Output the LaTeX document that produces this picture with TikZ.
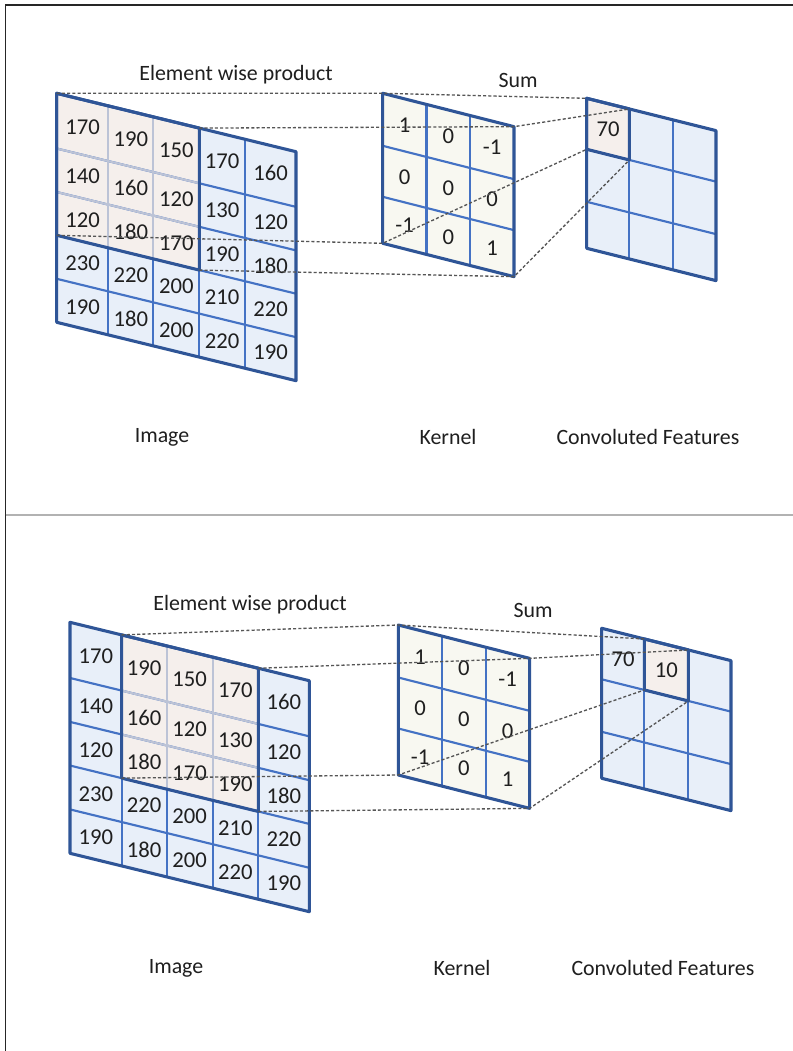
\documentclass[tikz,border=0pt]{standalone}
\usepackage{fontspec}
\setmainfont{Carlito}
\usetikzlibrary{calc}
\definecolor{gridblue}{HTML}{4472C4}
\definecolor{edgeblue}{HTML}{2F5597}
\definecolor{cellblue}{HTML}{E8EFF9}
\definecolor{cellpink}{HTML}{F5EFEC}
\definecolor{cellcream}{HTML}{F8F8F1}
\definecolor{hlline}{HTML}{BCC3D6}
\definecolor{dashgray}{HTML}{555555}
\tikzset{
  innerline/.style={draw=gridblue, line width=1.6pt},
  lightline/.style={draw=hlline, line width=1.6pt},
  outerline/.style={draw=edgeblue, line width=2.3pt, line join=round},
  conn/.style={draw=dashgray, line width=1pt, dash pattern=on 2.3pt off 1.6pt},
  num/.style={font=\fontsize{17}{20}\selectfont, inner sep=0pt, text=black!88},
  lbl/.style={font=\fontsize{16.4}{19}\selectfont, inner sep=0pt, text=black!88},
}
% image grid: #1 prefix, #2 x, #3 y, #4 height, #5 highlight column
\newcommand\imagegrid[5]{%
  \foreach \c/\dx in {0/0,1/51.6,2/96.6,3/142.6,4/188.3,5/239.3}{
    \foreach \r/\f in {0/0,1/.241,2/.431,3/.620,4/.810,5/1}{
      \coordinate (#1-\c-\r) at ({#2+\dx},{#3+\dx*0.244+\f*#4});
    }}
  \foreach \r in {0,...,4}{
    \foreach \c in {0,...,4}{
      \pgfmathtruncatemacro\cc{\c+1}
      \pgfmathtruncatemacro\rr{\r+1}
      \def\fc{cellblue}
      \ifnum\r<3 \ifnum\c<#5 \else \ifnum\c>\numexpr#5+2\relax \else \def\fc{cellpink}\fi\fi\fi
      \fill[\fc] (#1-\c-\r) -- (#1-\cc-\r) -- (#1-\cc-\rr) -- (#1-\c-\rr) -- cycle;
    }}
  \foreach \c in {1,...,4} \draw[innerline] (#1-\c-0) -- (#1-\c-5);
  \foreach \r in {1,...,4} \draw[innerline] (#1-0-\r) -- (#1-5-\r);
  \pgfmathtruncatemacro\hA{#5+1}
  \pgfmathtruncatemacro\hB{#5+2}
  \pgfmathtruncatemacro\hC{#5+3}
  \draw[lightline] (#1-\hA-0) -- (#1-\hA-3);
  \draw[lightline] (#1-\hB-0) -- (#1-\hB-3);
  \draw[lightline] (#1-#5-1) -- (#1-\hC-1);
  \draw[lightline] (#1-#5-2) -- (#1-\hC-2);
  \draw[outerline] (#1-0-0) -- (#1-5-0) -- (#1-5-5) -- (#1-0-5) -- cycle;
  \draw[outerline] (#1-#5-0) -- (#1-\hC-0) -- (#1-\hC-3) -- (#1-#5-3) -- cycle;
  \foreach \r/\row in {0/{170,190,150,170,160},1/{140,160,120,130,120},2/{120,180,170,190,180},3/{230,220,200,210,220},4/{190,180,200,220,190}}{
    \foreach \v [count=\c from 0] in \row {
      \pgfmathtruncatemacro\cc{\c+1}
      \pgfmathtruncatemacro\rr{\r+1}
      \node[num] (#1-n\r\c) at ($(#1-\c-\r)!0.5!(#1-\cc-\rr)$) {\v};
    }}
}
% kernel grid: #1 prefix, #2 x, #3 y
\newcommand\kernelgrid[3]{%
  \foreach \c/\dx in {0/0,1/43.8,2/87.5,3/131.3}{
    \foreach \r/\f in {0/0,1/.35,2/.69,3/1}{
      \coordinate (#1-\c-\r) at ({#2+\dx},{#3+\dx*0.254+\f*150});
    }}
  \fill[cellcream] (#1-0-0) -- (#1-3-0) -- (#1-3-3) -- (#1-0-3) -- cycle;
  \foreach \c in {1,2} \draw[innerline] (#1-\c-0) -- (#1-\c-3);
  \foreach \r in {1,2} \draw[innerline] (#1-0-\r) -- (#1-3-\r);
  \draw[outerline] (#1-0-0) -- (#1-3-0) -- (#1-3-3) -- (#1-0-3) -- cycle;
  \foreach \r/\row in {0/{1,0,-1},1/{0,0,0},2/{-1,0,1}}{
    \foreach \v [count=\c from 0] in \row {
      \pgfmathtruncatemacro\cc{\c+1}
      \pgfmathtruncatemacro\rr{\r+1}
      \node[num] (#1-n\r\c) at ($(#1-\c-\r)!0.5!(#1-\cc-\rr)$) {\v};
    }}
}
% output grid: #1 prefix, #2 x, #3 y, #4 highlight column
\newcommand\outgrid[4]{%
  \foreach \c/\dx in {0/0,1/42.7,2/86.7,3/129.3}{
    \foreach \r/\f in {0/0,1/.34,2/.69,3/1}{
      \coordinate (#1-\c-\r) at ({#2+\dx},{#3+\dx*0.25+\f*150});
    }}
  \pgfmathtruncatemacro\hA{#4+1}
  \fill[cellblue] (#1-0-0) -- (#1-3-0) -- (#1-3-3) -- (#1-0-3) -- cycle;
  \fill[cellpink] (#1-#4-0) -- (#1-\hA-0) -- (#1-\hA-1) -- (#1-#4-1) -- cycle;
  \foreach \c in {1,2} \draw[innerline] (#1-\c-0) -- (#1-\c-3);
  \foreach \r in {1,2} \draw[innerline] (#1-0-\r) -- (#1-3-\r);
  \draw[outerline] (#1-0-0) -- (#1-3-0) -- (#1-3-3) -- (#1-0-3) -- cycle;
  \draw[outerline] (#1-#4-0) -- (#1-\hA-0) -- (#1-\hA-1) -- (#1-#4-1) -- cycle;
}
% dashed connectors: #1 image, #2 kernel, #3 output, #4 highlight column
\newcommand\links[4]{%
  \pgfmathtruncatemacro\hA{#4+1}
  \pgfmathtruncatemacro\hC{#4+3}
  \draw[conn] (#1-#4-0) -- (#2-0-0) -- (#3-#4-0);
  \draw[conn] (#1-\hC-0) -- (#2-3-0) -- (#3-\hA-0);
  \draw[conn] (#1-#4-3) -- (#2-0-3) -- (#3-#4-1);
  \draw[conn] (#1-\hC-3) -- (#2-3-3) -- (#3-\hA-1);
}
\begin{document}
\begin{tikzpicture}[x=0.75pt,y=-0.75pt]
\useasboundingbox (0,0) rectangle (793,1051);
\fill[white] (0,0) rectangle (793,1051);
% frame
\draw[black!85, line width=1.1pt] (5.5,1051) -- (5.5,5) -- (793,5);
\draw[black!30, line width=1.8pt] (5.5,515) -- (793,515);
% top panel
\imagegrid{A}{56.7}{93.3}{229}{0}
\kernelgrid{AK}{382.7}{93.3}
\outgrid{AO}{586.7}{98.3}{0}
\node[num] (AO-v70) at ($(AO-0-0)!0.5!(AO-1-1)$) {70};
\links{A}{AK}{AO}{0}
\node[lbl] (A-ewp) at (236,75) {Element wise product};
\node[lbl] (A-sum) at (518,80) {Sum};
\node[lbl] (A-img) at (162,437) {Image};
\node[lbl] (A-ker) at (448,437) {Kernel};
\node[lbl] (A-cf) at (648,437) {Convoluted Features};
% bottom panel
\imagegrid{B}{70}{622.3}{231}{1}
\kernelgrid{BK}{398.3}{625}
\outgrid{BO}{601.7}{628.3}{1}
\node[num] (BO-v70) at ($(BO-0-0)!0.5!(BO-1-1)$) {70};
\node[num] (BO-v10) at ($(BO-1-0)!0.5!(BO-2-1)$) {10};
\links{B}{BK}{BO}{1}
\node[lbl] (B-ewp) at (250,605) {Element wise product};
\node[lbl] (B-sum) at (533,610) {Sum};
\node[lbl] (B-img) at (176,968) {Image};
\node[lbl] (B-ker) at (462,968) {Kernel};
\node[lbl] (B-cf) at (663,968) {Convoluted Features};
\end{tikzpicture}
\end{document}
